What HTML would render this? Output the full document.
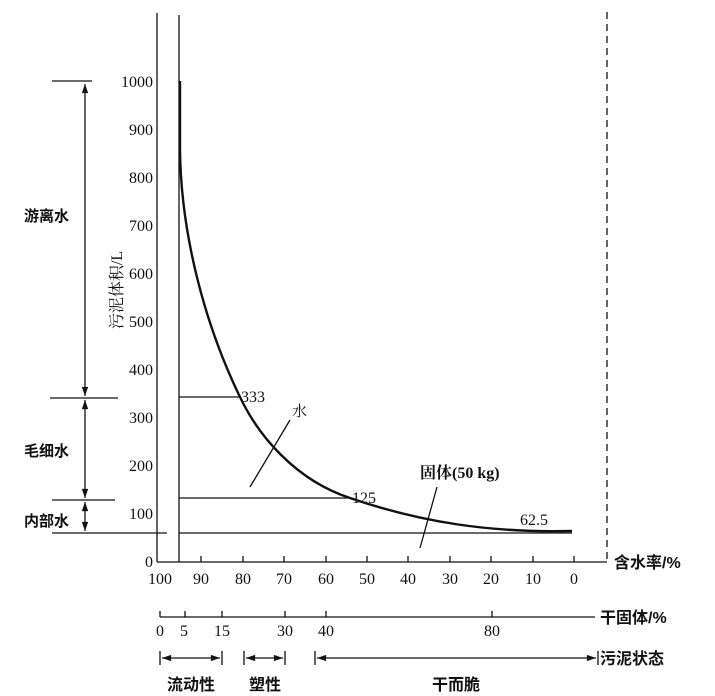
<!DOCTYPE html>
<html><head><meta charset="utf-8"><style>
body{margin:0;background:#fff}
svg{display:block}
text{font-family:"Liberation Serif","Noto Serif CJK SC",serif;fill:#111}
.c{font-family:"Liberation Sans","Noto Sans CJK SC",sans-serif;font-weight:bold}
</style></head><body>
<svg width="715" height="696" viewBox="0 0 715 696" xmlns="http://www.w3.org/2000/svg">
<defs><marker id="a" viewBox="0 0 10 10" refX="10" refY="5" markerWidth="10" markerHeight="7" orient="auto-start-reverse"><path d="M0,1.5 L10,5 L0,8.5z" fill="#111"/></marker></defs>
<g stroke="#111" stroke-width="1.3" fill="none">
<line x1="157" y1="13" x2="157" y2="562"/>
<line x1="179" y1="15" x2="179" y2="562"/>
<line x1="157" y1="562" x2="607" y2="562"/>
<line x1="607" y1="12" x2="607" y2="562" stroke-dasharray="7,5"/>
<path d="M180,81 L180,150 C181,235 205,325 240,397 C258,435 295,480 350,498 C420,522 490,533 572,531" stroke-width="2.4"/>
<line x1="179" y1="397" x2="240" y2="397"/>
<line x1="179" y1="498" x2="350" y2="498"/>
<line x1="179" y1="533" x2="572" y2="533"/>
<line x1="52" y1="533" x2="167" y2="533"/>
<line x1="52" y1="81" x2="92" y2="81"/>
<line x1="50" y1="398" x2="118" y2="398"/>
<line x1="52" y1="500" x2="115" y2="500"/>
<line x1="85" y1="84" x2="85" y2="396" marker-start="url(#a)" marker-end="url(#a)"/>
<line x1="85" y1="400" x2="85" y2="498" marker-start="url(#a)" marker-end="url(#a)"/>
<line x1="85" y1="502" x2="85" y2="531" marker-start="url(#a)" marker-end="url(#a)"/>
<line x1="250" y1="487" x2="290" y2="420"/>
<line x1="420" y1="548" x2="437" y2="487"/>
<line x1="201" y1="562" x2="201" y2="556"/><line x1="243" y1="562" x2="243" y2="556"/><line x1="284" y1="562" x2="284" y2="556"/><line x1="326" y1="562" x2="326" y2="556"/><line x1="367" y1="562" x2="367" y2="556"/><line x1="408" y1="562" x2="408" y2="556"/><line x1="450" y1="562" x2="450" y2="556"/><line x1="491" y1="562" x2="491" y2="556"/><line x1="533" y1="562" x2="533" y2="556"/><line x1="574" y1="562" x2="574" y2="556"/>
<line x1="160" y1="617" x2="595" y2="617"/>
<line x1="160" y1="617" x2="160" y2="611"/><line x1="185" y1="617" x2="185" y2="611"/><line x1="222" y1="617" x2="222" y2="611"/><line x1="285" y1="617" x2="285" y2="611"/><line x1="326" y1="617" x2="326" y2="611"/><line x1="492" y1="617" x2="492" y2="611"/>
<line x1="160" y1="651" x2="160" y2="665"/><line x1="222" y1="651" x2="222" y2="665"/>
<line x1="162" y1="658" x2="220" y2="658" marker-start="url(#a)" marker-end="url(#a)"/>
<line x1="244" y1="651" x2="244" y2="665"/><line x1="285" y1="651" x2="285" y2="665"/>
<line x1="246" y1="658" x2="283" y2="658" marker-start="url(#a)" marker-end="url(#a)"/>
<line x1="315" y1="651" x2="315" y2="665"/><line x1="598" y1="651" x2="598" y2="665"/>
<line x1="317" y1="658" x2="596" y2="658" marker-start="url(#a)" marker-end="url(#a)"/>
</g>
<g font-size="16" text-anchor="end">
<text x="153" y="87">1000</text><text x="153" y="135">900</text><text x="153" y="183">800</text><text x="153" y="231">700</text><text x="153" y="279">600</text><text x="153" y="327">500</text><text x="153" y="375">400</text><text x="153" y="423">300</text><text x="153" y="471">200</text><text x="153" y="519">100</text><text x="153" y="567">0</text>
</g>
<g font-size="16" text-anchor="middle">
<text x="160" y="584">100</text><text x="201" y="584">90</text><text x="243" y="584">80</text><text x="284" y="584">70</text><text x="326" y="584">60</text><text x="367" y="584">50</text><text x="408" y="584">40</text><text x="450" y="584">30</text><text x="491" y="584">20</text><text x="533" y="584">10</text><text x="574" y="584">0</text>
<text x="160" y="636">0</text><text x="184" y="636">5</text><text x="222" y="636">15</text><text x="285" y="636">30</text><text x="326" y="636">40</text><text x="492" y="636">80</text>
</g>
<text x="241" y="402" font-size="16">333</text>
<text x="352" y="503" font-size="16">125</text>
<text x="520" y="525" font-size="16">62.5</text>
<text x="420" y="478" font-size="16" style="font-weight:bold">固体(50 kg)</text>
<text x="292" y="416" font-size="15">水</text>
<text x="24" y="221" font-size="15" class="c">游离水</text>
<text x="24" y="456" font-size="15" class="c">毛细水</text>
<text x="24" y="526" font-size="15" class="c">内部水</text>
<text transform="translate(122,290) rotate(-90)" font-size="16" text-anchor="middle">污泥体积/L</text>
<text x="614" y="568" font-size="16" class="c">含水率/%</text>
<text x="600" y="623" font-size="16" class="c">干固体/%</text>
<text x="600" y="664" font-size="16" class="c">污泥状态</text>
<text x="191" y="690" font-size="16" class="c" text-anchor="middle">流动性</text>
<text x="265" y="690" font-size="16" class="c" text-anchor="middle">塑性</text>
<text x="456" y="690" font-size="16" class="c" text-anchor="middle">干而脆</text>
</svg>
</body></html>
